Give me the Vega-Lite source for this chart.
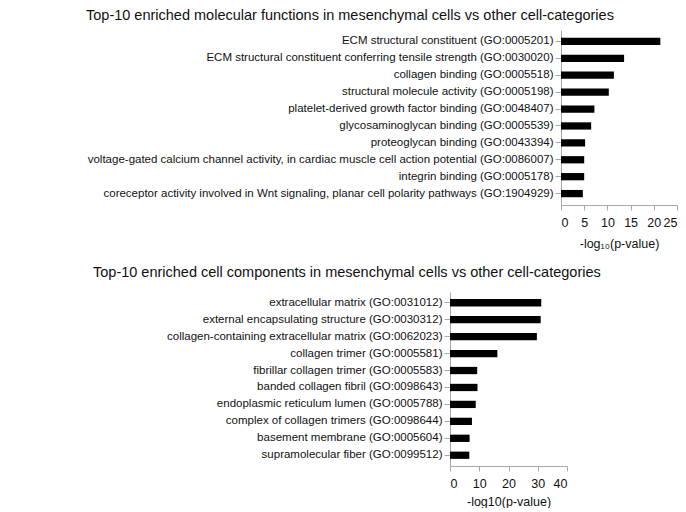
{
  "$schema": "https://vega.github.io/schema/vega-lite/v6.json",
  "padding": {"left": 86, "top": 7, "right": 2, "bottom": 0},
  "background": "white",
  "config": {
    "font": "Liberation Sans",
    "view": {"stroke": null},
    "axis": {"grid": false, "domainColor": "#a8a8a8", "tickColor": "#a8a8a8", "labelColor": "#111111", "titleColor": "#111111", "titleFontWeight": "normal"}
  },
  "spacing": 14,
  "resolve": {"scale": {"x": "independent", "y": "independent"}},
  "vconcat": [
    {
      "title": {"text": "Top-10 enriched molecular functions in mesenchymal cells vs other cell-categories", "anchor": "start", "frame": "group", "dx": -364, "fontSize": 14.5, "fontWeight": "normal", "offset": 7, "color": "#111111"},
      "width": 227,
      "height": 175,
      "data": {"values": [
        {"term": "ECM structural constituent (GO:0005201)", "value": 21.4},
        {"term": "ECM structural constituent conferring tensile strength (GO:0030020)", "value": 13.6},
        {"term": "collagen binding (GO:0005518)", "value": 11.4},
        {"term": "structural molecule activity (GO:0005198)", "value": 10.3},
        {"term": "platelet-derived growth factor binding (GO:0048407)", "value": 7.2},
        {"term": "glycosaminoglycan binding (GO:0005539)", "value": 6.5},
        {"term": "proteoglycan binding (GO:0043394)", "value": 5.2},
        {"term": "voltage-gated calcium channel activity, in cardiac muscle cell action potential (GO:0086007)", "value": 5.0},
        {"term": "integrin binding (GO:0005178)", "value": 5.0},
        {"term": "coreceptor activity involved in Wnt signaling, planar cell polarity pathways (GO:1904929)", "value": 4.7}
      ]},
      "mark": {"type": "bar", "color": "black"},
      "encoding": {
        "y": {"field": "term", "type": "nominal", "sort": null, "scale": {"paddingInner": 0.57, "paddingOuter": 0.46},
          "axis": {"title": null, "labelFontSize": 11.5, "tickSize": 6, "labelPadding": 2, "labelLimit": 700, "offset": -111}},
        "x": {"field": "value", "type": "quantitative", "scale": {"domain": [0, 25], "nice": false, "range": [111, 227]},
          "axis": {"values": [0, 5, 10, 15, 20, 25], "title": "-log₁₀(p-value)", "titleFontSize": 12.5, "labelFontSize": 12.5, "tickSize": 5, "labelPadding": 6, "titlePadding": 9, "titleX": 169}}
      }
    },
    {
      "title": {"text": "Top-10 enriched cell components in mesenchymal cells vs other cell-categories", "anchor": "start", "frame": "group", "dx": -357, "fontSize": 14.5, "fontWeight": "normal", "offset": 12, "color": "#111111"},
      "width": 117,
      "height": 174,
      "data": {"values": [
        {"term": "extracellular matrix (GO:0031012)", "value": 31.2},
        {"term": "external encapsulating structure (GO:0030312)", "value": 31.0},
        {"term": "collagen-containing extracellular matrix (GO:0062023)", "value": 29.7},
        {"term": "collagen trimer (GO:0005581)", "value": 16.2},
        {"term": "fibrillar collagen trimer (GO:0005583)", "value": 9.3},
        {"term": "banded collagen fibril (GO:0098643)", "value": 9.4},
        {"term": "endoplasmic reticulum lumen (GO:0005788)", "value": 8.8},
        {"term": "complex of collagen trimers (GO:0098644)", "value": 7.5},
        {"term": "basement membrane (GO:0005604)", "value": 6.7},
        {"term": "supramolecular fiber (GO:0099512)", "value": 6.6}
      ]},
      "mark": {"type": "bar", "color": "black"},
      "encoding": {
        "y": {"field": "term", "type": "nominal", "sort": null, "scale": {"paddingInner": 0.57, "paddingOuter": 0.42},
          "axis": {"title": null, "labelFontSize": 11.5, "tickSize": 6, "labelPadding": 2, "labelLimit": 700}},
        "x": {"field": "value", "type": "quantitative", "scale": {"domain": [0, 40], "nice": false},
          "axis": {"values": [0, 10, 20, 30, 40], "title": "-log10(p-value)", "titleFontSize": 12.5, "labelFontSize": 12.5, "tickSize": 5, "labelPadding": 6, "titlePadding": 6}}
      }
    }
  ]
}
